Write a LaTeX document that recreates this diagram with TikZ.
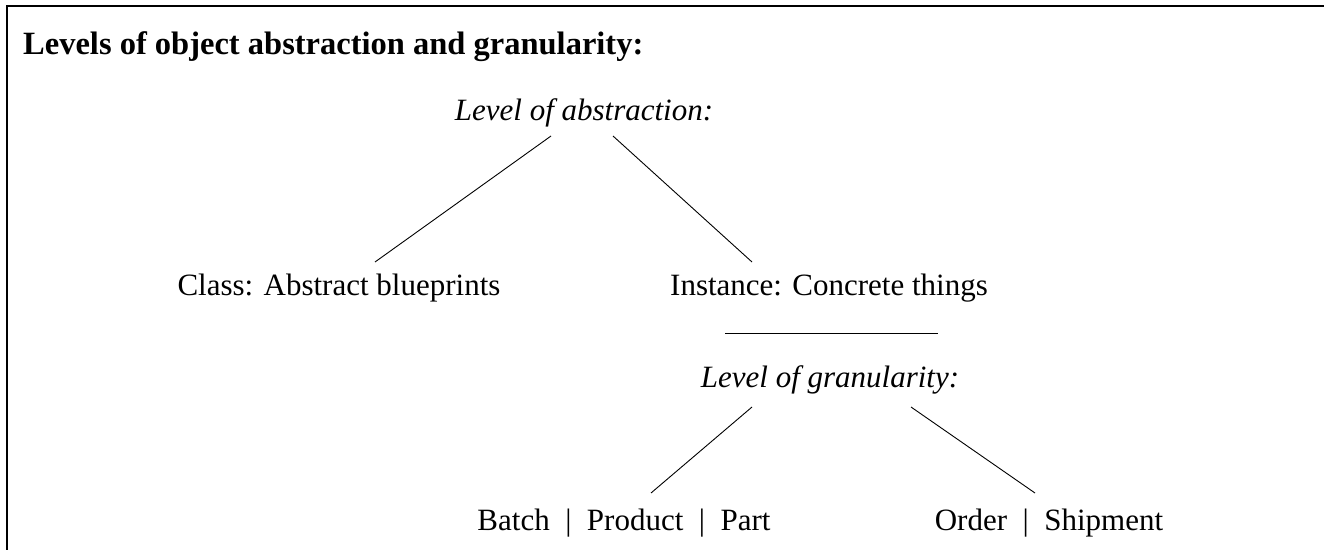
\documentclass[tikz,border=0pt]{standalone}
\usepackage{fontspec}
\setmainfont{Liberation Serif}
\usetikzlibrary{calc}
\begin{document}
\begin{tikzpicture}[x=1pt,y=-1pt,
  lbl/.style={anchor=base,inner sep=0pt,font=\fontsize{31}{36}\selectfont},
  ilbl/.style={lbl,font=\fontsize{31}{36}\selectfont\itshape},
  conn/.style={line width=0.9pt}]
\useasboundingbox (0,0) rectangle (1324,549);
\draw[line width=1.5pt] (7,560) -- (7,6) -- (1330,6);
\node[anchor=base west,inner sep=0pt,font=\fontsize{32.5}{38}\selectfont\bfseries] (title) at (23,54) {Levels of object abstraction and granularity:};
\node[ilbl] (abs) at (584,120) {Level of abstraction:};
\node[lbl] (class) at (339,295) {Class:  Abstract blueprints};
\node[lbl] (inst) at (829,295) {Instance: Concrete things};
\node[ilbl] (gran) at (830,387) {Level of granularity:};
\node[lbl] (bpp) at (624,530) {Batch \ | \ Product \ | \ Part};
\node[lbl] (os) at (1049,530) {Order \ | \ Shipment};
\draw[conn] ($(abs.base)+(-33,16)$) -- ($(class.base)+(36,-33)$);
\draw[conn] ($(abs.base)+(29,16)$) -- ($(inst.base)+(-77,-33)$);
\draw[conn] ($(inst.base)+(-104,38)$) -- ($(inst.base)+(109,38)$);
\draw[conn] ($(gran.base)+(-78,20)$) -- ($(bpp.base)+(27,-37)$);
\draw[conn] ($(gran.base)+(81,20)$) -- ($(os.base)+(-14,-37)$);
\end{tikzpicture}
\end{document}
